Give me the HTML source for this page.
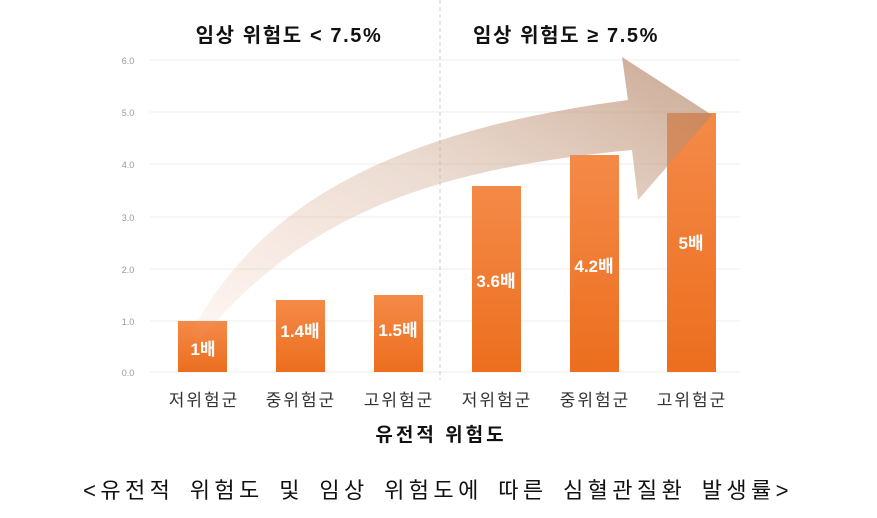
<!DOCTYPE html>
<html><head><meta charset="utf-8"><style>
body{margin:0;background:#fff;}
svg{display:block;font-family:"Liberation Sans","Noto Sans CJK KR",sans-serif;}
</style></head><body>
<svg width="877" height="518" viewBox="0 0 877 518">
<defs>
<linearGradient id="bar" x1="0" y1="0" x2="0" y2="1">
<stop offset="0" stop-color="#f48a48"/><stop offset="1" stop-color="#ec6e1e"/>
</linearGradient>
<linearGradient id="arr" x1="0" y1="1" x2="1" y2="0">
<stop offset="0" stop-color="#eaa080" stop-opacity="0.08"/>
<stop offset="0.5" stop-color="#d0aa92" stop-opacity="0.4"/>
<stop offset="1" stop-color="#b08060" stop-opacity="0.7"/>
</linearGradient>
</defs>
<g stroke="#eeeeee" stroke-width="1">
<line x1="150" y1="60" x2="740" y2="60"/><line x1="150" y1="112" x2="740" y2="112"/>
<line x1="150" y1="164" x2="740" y2="164"/><line x1="150" y1="217" x2="740" y2="217"/>
<line x1="150" y1="269" x2="740" y2="269"/><line x1="150" y1="321" x2="740" y2="321"/>
<line x1="150" y1="372" x2="740" y2="372"/>
</g>
<g fill="#999" font-size="9" text-anchor="middle">
<text x="128" y="64">6.0</text><text x="128" y="116">5.0</text><text x="128" y="168">4.0</text>
<text x="128" y="221">3.0</text><text x="128" y="273">2.0</text><text x="128" y="325">1.0</text>
<text x="128" y="376">0.0</text>
</g>
<line x1="440" y1="0" x2="440" y2="380" stroke="#ccc" stroke-dasharray="4,3"/>
<g fill="url(#bar)">
<rect x="178" y="321" width="49" height="51"/><rect x="276" y="300" width="49" height="72"/>
<rect x="374" y="295" width="49" height="77"/><rect x="472" y="186" width="49" height="186"/>
<rect x="570" y="155" width="49" height="217"/><rect x="667" y="113" width="49" height="259"/>
</g>
<path d="M190 335 C260 200 400 130 628 100 L622 57 L712 115 L638 200 L632 150 C420 170 300 220 200 340 Z" fill="url(#arr)"/>
<g fill="#fff" font-weight="bold" font-size="17" text-anchor="middle">
<text x="203" y="355">1배</text><text x="300" y="337">1.4배</text><text x="398" y="336">1.5배</text>
<text x="496" y="287">3.6배</text><text x="594" y="272">4.2배</text><text x="691" y="249">5배</text>
</g>
<g fill="#333" font-size="17" text-anchor="middle" letter-spacing="2">
<text x="204" y="406">저위험군</text><text x="301" y="406">중위험군</text><text x="399" y="406">고위험군</text>
<text x="497" y="406">저위험군</text><text x="595" y="406">중위험군</text><text x="692" y="406">고위험군</text>
</g>
<text x="441" y="441" font-size="19" font-weight="bold" text-anchor="middle" fill="#111" letter-spacing="3">유전적 위험도</text>
<text x="289" y="42" font-size="20" font-weight="bold" text-anchor="middle" fill="#111" letter-spacing="1.6">임상 위험도 &lt; 7.5%</text>
<text x="566" y="42" font-size="20" font-weight="bold" text-anchor="middle" fill="#111" letter-spacing="1.6">임상 위험도 ≥ 7.5%</text>
<text x="438" y="498" font-size="22" text-anchor="middle" fill="#111" letter-spacing="4.4" word-spacing="5">&lt;유전적 위험도 및 임상 위험도에 따른 심혈관질환 발생률&gt;</text>
</svg>
</body></html>
